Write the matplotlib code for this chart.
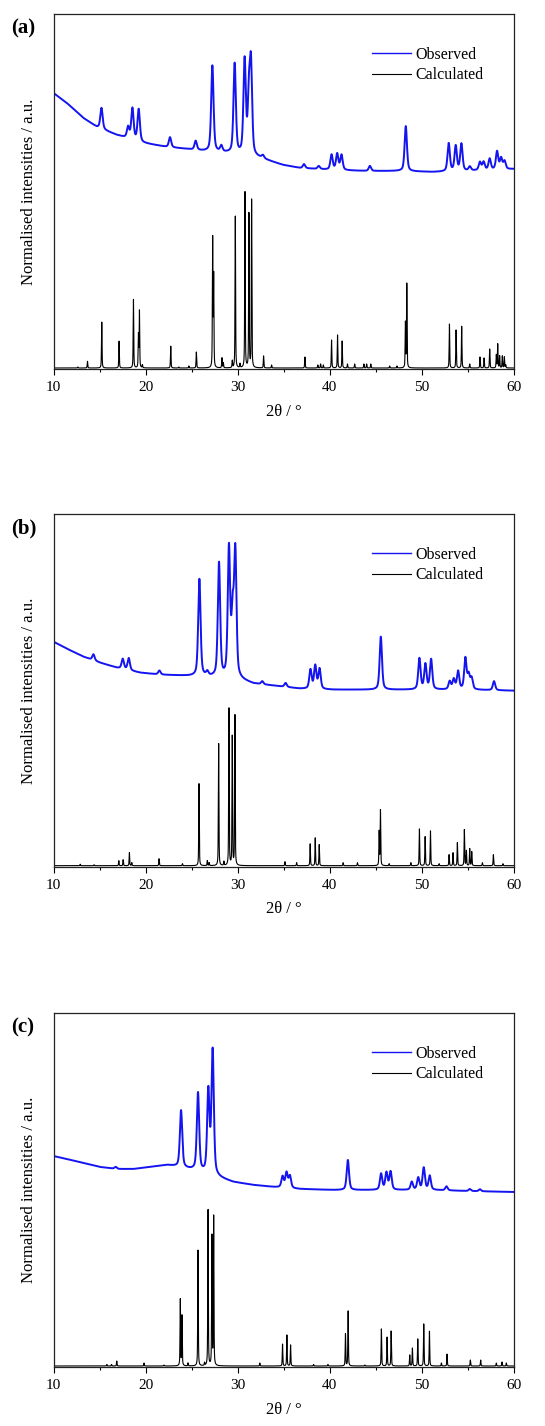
import numpy as np
import matplotlib
matplotlib.use("Agg")
import matplotlib.pyplot as plt

plt.rcParams['font.family'] = ['Liberation Serif', 'DejaVu Serif']

# ---- panel (a) ----
a_bg_x = [10, 11.45, 13.25, 14.7, 16.87, 18.68, 19.76, 22.3, 24.46, 26.27, 28.8, 32.4,
          34.9, 36.75, 40.37, 44, 47.6, 51.2, 54.8, 60]
a_bg_y = [276, 266, 251, 242, 234, 229, 226, 222, 220, 218, 216, 211,
          204, 201, 199, 198, 198, 197, 198, 200]
a_obs_pos = [15.21, 18.1, 18.57, 19.25, 22.65, 25.44, 27.25, 28.22, 29.67, 30.75, 31.22,
             31.44, 32.74, 37.2, 38.8, 40.19, 40.8, 41.27, 44.35, 48.25, 52.91, 53.67,
             54.29, 55.2, 56.3, 56.7, 57.36, 58.16, 58.6, 58.97]
a_obs_int = [21, 11, 31, 32, 10, 9, 86, 6, 90, 94, 55, 86, 3, 4, 3, 15, 16, 15, 5, 45,
             28, 25, 27, 4, 8, 8, 11, 18, 11, 8]
a_calc_pos = [12.64, 13.69, 15.24, 17.12, 18.68, 19.22, 19.33, 19.65, 22.73, 23.6, 24.7,
              25.51, 27.28, 27.39, 28.29, 28.44, 29.41, 29.74, 30.25, 30.79, 31.22, 31.51,
              32.81, 33.68, 37.30, 38.7, 39.0, 39.3, 40.19, 40.84, 41.34, 41.92, 42.7,
              43.7, 44.0, 44.45, 46.5, 47.3, 48.21, 48.36, 52.99, 53.71, 54.32, 55.19,
              56.31, 56.75, 57.36, 58.08, 58.23, 58.44, 58.73, 58.95, 59.1]
a_calc_int = [1, 6.7, 46, 27, 69, 33, 57, 3, 22, 1, 2, 16, 129, 91, 10, 5, 7, 152, 4, 176,
              155, 168, 12, 3, 11, 3, 4, 3, 28, 33, 27, 4, 4, 4, 4, 4, 2, 2, 45, 84, 44,
              38, 42, 4, 11, 10, 19, 13, 24, 12, 12, 11, 3]

# ---- panel (b) ----
b_bg_x = [10, 11.45, 13.25, 15.06, 16.87, 19.4, 21.57, 24.1, 26.6, 30.25, 31.7, 33.86,
          36.75, 40.4, 44, 47.6, 51.2, 54.8, 60]
b_bg_y = [225, 218, 210, 204, 199, 194, 192, 191, 190, 187, 183, 181,
          178, 177, 177, 177, 177, 177, 176]
b_obs_pos = [14.34, 17.52, 18.17, 21.5, 25.84, 26.7, 27.97, 29.05, 29.45, 29.74, 32.67,
             35.2, 37.9, 38.42, 38.89, 45.54, 49.73, 50.38, 51.0, 53.02, 53.46, 53.93,
             54.72, 55.08, 55.4, 57.83]
b_obs_int = [6, 10, 12, 4, 97, 4, 114, 128, 60, 124, 3, 4, 19, 23, 20, 53, 31, 25, 30,
             8, 10, 18, 31, 14, 11, 9]
b_calc_pos = [12.9, 14.4, 17.09, 17.56, 18.24, 18.5, 21.46, 24.0, 25.8, 26.7, 26.9, 27.93,
              28.5, 29.05, 29.41, 29.7, 35.13, 36.4, 37.87, 38.42, 38.85, 41.45, 43.0,
              45.36, 45.5, 46.44, 48.8, 49.73, 50.35, 50.93, 51.87, 52.95, 53.38, 53.85,
              54.61, 54.83, 55.19, 55.41, 56.57, 57.76, 58.8]
b_calc_int = [1.5, 1, 5, 6, 13, 3, 7, 2, 82, 5, 3, 123, 4, 157, 129, 150, 4, 3, 22, 28,
              21, 3, 3, 34, 55, 2, 3, 37, 29, 35, 2, 11, 13, 23, 36, 15, 17, 14, 3, 11, 2]

# ---- panel (c) ----
c_bg_x = [10, 11.45, 13.25, 15.06, 16.87, 18.68, 20.5, 22.3, 23.0, 25.2, 28.1, 29.5,
          31.7, 33.9, 36.75, 40.4, 44, 47.6, 51.2, 54.8, 60]
c_bg_y = [211, 208, 204, 200, 198, 198, 200, 202, 201, 197, 189, 185,
          182, 180, 178, 177, 177, 177, 177, 176, 175]
c_obs_pos = [16.76, 23.85, 25.69, 26.81, 27.28, 34.87, 35.3, 35.67, 41.96, 45.57, 46.15,
             46.6, 48.9, 49.6, 50.2, 50.85, 52.67, 55.2, 56.3]
c_obs_int = [2, 57, 78, 82, 124, 11, 15, 12, 30, 16, 17, 18, 8, 12, 22, 14, 4, 2, 2]
c_calc_pos = [15.8, 16.3, 16.87, 19.83, 22.0, 23.77, 23.95, 24.6, 25.69, 26.4, 26.78,
              27.2, 27.39, 32.4, 34.87, 35.34, 35.74, 38.24, 39.8, 41.7, 41.99, 43.8,
              45.6, 46.22, 46.66, 48.68, 48.97, 49.55, 50.2, 50.82, 52.12, 52.73, 55.26,
              56.38, 58.08, 58.7, 59.17]
c_calc_int = [1.5, 1.5, 5, 3, 1, 67, 50, 3, 116, 3, 157, 129, 149, 3, 22, 31, 21, 1.5,
              1.5, 32, 55, 1, 37, 29, 35, 11, 18, 27, 42, 35, 3, 12, 6, 6, 3, 4, 3]

panels = [
    ("(a)", a_bg_x, a_bg_y, a_obs_pos, a_obs_int, a_calc_pos, a_calc_int),
    ("(b)", b_bg_x, b_bg_y, b_obs_pos, b_obs_int, b_calc_pos, b_calc_int),
    ("(c)", c_bg_x, c_bg_y, c_obs_pos, c_obs_int, c_calc_pos, c_calc_int),
]


def profile(x, pos, inten, fwhm, eta=0.5):
    # pseudo-Voigt peaks at the read positions / heights
    y = np.zeros_like(x)
    for p, h in zip(pos, inten):
        d = (x - p) / (fwhm / 2)
        y += h * (eta / (1 + d ** 2) + (1 - eta) * np.exp(-np.log(2) * d ** 2))
    return y


x = np.linspace(10, 60, 6001)

fig = plt.figure(figsize=(5.45, 14.26), dpi=100)
# axes boxes in pixels: top, bottom
boxes = [(14, 369), (514, 866.7), (1013, 1367)]
H = 1426.0
for (lab, bgx, bgy, op, oi, cp, ci), (top, bot) in zip(panels, boxes):
    ax = fig.add_axes([53.5 / 545, 1 - bot / H, 460.5 / 545, (bot - top) / H])
    obs = np.interp(x, bgx, bgy) + profile(x, op, oi, 0.3)
    calc = 1 + profile(x, cp, ci, 0.07)
    ax.plot(x, obs, color='#1414f0', lw=1.4, label='Observed')
    ax.plot(x, calc, color='black', lw=0.8, label='Calculated')
    ax.set_xlim(10, 60)
    ax.set_ylim(0, bot - top)
    ax.set_yticks([])
    ax.set_xticks([10, 20, 30, 40, 50, 60])
    ax.set_xticks([15, 25, 35, 45, 55], minor=True)
    ax.tick_params(axis='x', which='major', direction='out', length=4, width=0.8,
                   labelsize=11, pad=4.5)
    ax.tick_params(axis='x', which='minor', direction='out', length=2, width=0.8)
    for s in ax.spines.values():
        s.set_linewidth(0.9)
        s.set_color('#222222')
    ax.set_xlabel('2θ / °', fontsize=12, labelpad=7)
    ax.set_ylabel('Normalised intensities / a.u.', fontsize=12, labelpad=12)
    leg = ax.legend(loc='upper right', bbox_to_anchor=(0.955, 0.935), frameon=False,
                    fontsize=11.5, handlelength=2.4, handletextpad=0.3,
                    labelspacing=0.3, borderaxespad=0.2)
    leg.get_lines()[0].set_linewidth(1.0)
    fig.text(11 / 545, 1 - (top + 14) / H, lab, fontsize=15, fontweight='bold',
             va='center', ha='left')

fig.savefig('out.png', dpi=100)
